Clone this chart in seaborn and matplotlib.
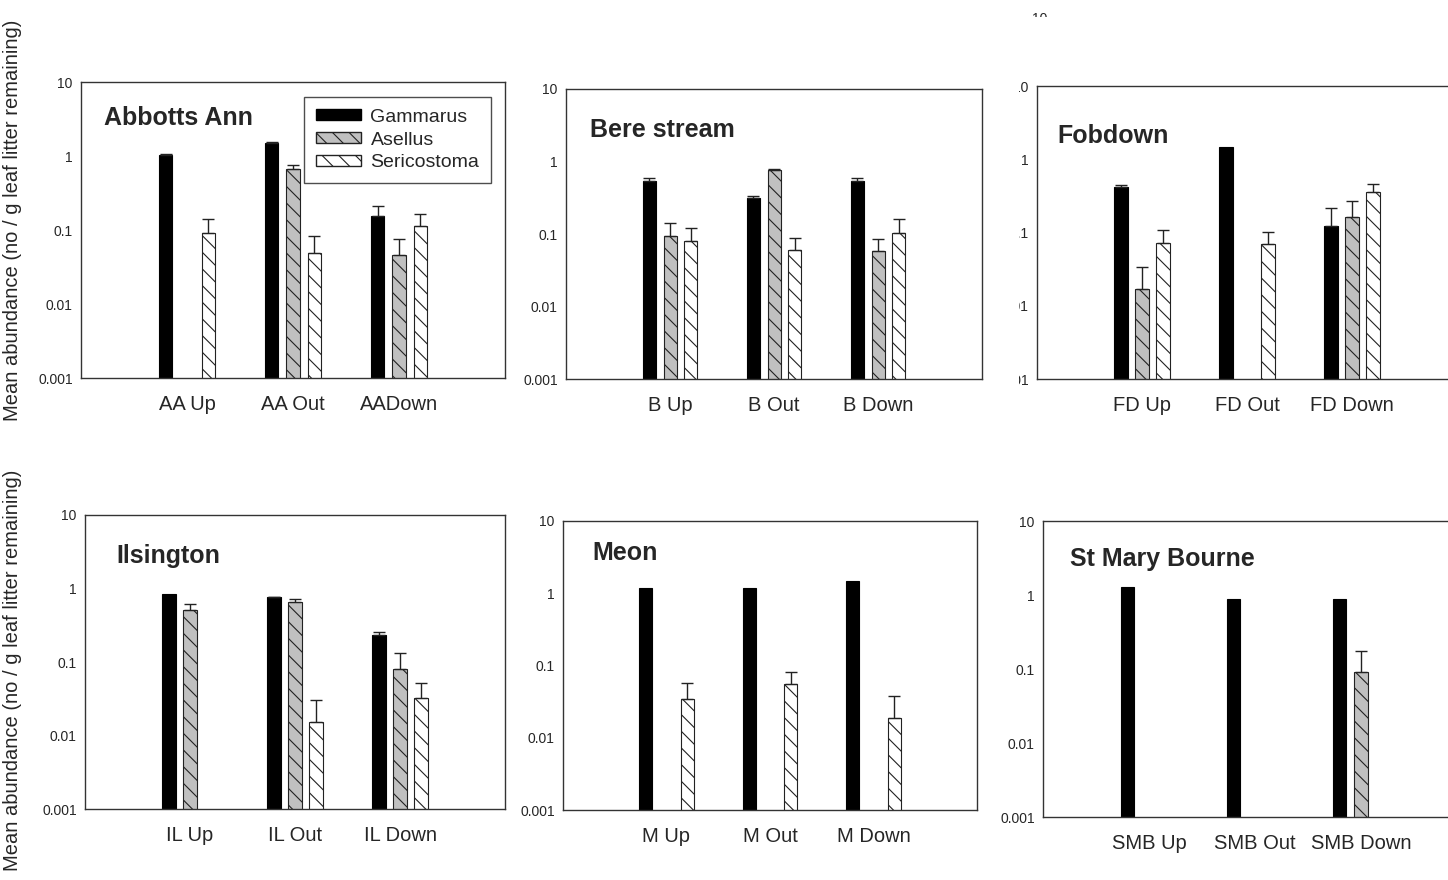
"""
Mean abundance of three shredders at six chalk-stream sites (log scale bars)
"""

import matplotlib
matplotlib.use("Agg")
import matplotlib.pyplot as plt
from matplotlib.patches import Patch, Rectangle
from matplotlib.ticker import NullLocator
import seaborn as sns
import numpy as np
import pandas as pd

nan = np.nan

species = ["Gammarus", "Asellus", "Sericostoma"]
sites = ["Abbotts Ann", "Bere stream", "Fobdown", "Ilsington", "Meon", "St Mary Bourne"]
reaches = [
    ["AA Up", "AA Out", "AADown"],
    ["B Up", "B Out", "B Down"],
    ["FD Up", "FD Out", "FD Down"],
    ["IL Up", "IL Out", "IL Down"],
    ["M Up", "M Out", "M Down"],
    ["SMB Up", "SMB Out", "SMB Down"],
]

# mean abundance (no / g leaf litter remaining), one row per site; nan = not found
gammarus = [
    [1.04, 1.51, 0.156],
    [0.542, 0.31, 0.542],
    [0.415, 1.49, 0.123],
    [0.837, 0.762, 0.234],
    [1.19, 1.19, 1.50],
    [1.27, 0.883, 0.883],
]
asellus = [
    [nan, 0.667, 0.046],
    [0.095, 0.76, 0.058],
    [0.0169, nan, 0.164],
    [0.502, 0.659, 0.080],
    [nan, nan, nan],
    [nan, nan, 0.090],
]
sericostoma = [
    [0.091, 0.049, 0.113],
    [0.079, 0.060, 0.102],
    [0.0716, 0.0686, 0.362],
    [nan, 0.0153, 0.032],
    [0.0343, 0.0558, 0.0187],
    [nan, nan, nan],
]

# standard errors (upper bars only)
gammarus_se = [
    [0.02, 0.03, 0.053],
    [0.041, 0.023, 0.041],
    [0.037, 0.0, 0.094],
    [0.0, 0.005, 0.018],
    [0.0, 0.0, 0.0],
    [0.0, 0.0, 0.0],
]
asellus_se = [
    [nan, 0.081, 0.030],
    [0.045, 0.02, 0.027],
    [0.0168, nan, 0.109],
    [0.110, 0.057, 0.053],
    [nan, nan, nan],
    [nan, nan, 0.087],
]
sericostoma_se = [
    [0.048, 0.035, 0.051],
    [0.041, 0.027, 0.061],
    [0.036, 0.032, 0.099],
    [nan, 0.0152, 0.020],
    [0.0227, 0.0252, 0.019],
    [nan, nan, nan],
]

colors = ["#000000", "#c0c0c0", "#ffffff"]
HATCH = "\\\\"

W, H = 1448, 880
# panel boxes in pixels: left, top, right, bottom
boxes = [
    (81, 82, 505, 378),
    (566, 89, 982, 379),
    (1037, 86, 1457, 379),
    (85, 515, 505, 809),
    (563, 521, 977, 810),
    (1043, 521, 1467, 817),
]
title_pos = [(0.054, 0.88), (0.058, 0.86), (0.048, 0.83),
             (0.074, 0.86), (0.07, 0.89), (0.064, 0.87)]

sns.set_style("white")
plt.rcParams["font.family"] = ["Liberation Sans", "DejaVu Sans"]
plt.rcParams["hatch.linewidth"] = 0.8

fig = plt.figure(figsize=(W / 100, H / 100), dpi=100)

all_mean = [gammarus, asellus, sericostoma]
all_se = [gammarus_se, asellus_se, sericostoma_se]
offsets = (np.arange(len(species)) - 1) * 0.2

for i, site in enumerate(sites):
    rows = []
    for j, reach in enumerate(reaches[i]):
        for k, sp in enumerate(species):
            rows.append(dict(reach=reach, species=sp,
                             mean=all_mean[k][i][j], se=all_se[k][i][j],
                             pos=j + offsets[k]))
    df = pd.DataFrame(rows)
    present = df.dropna(subset=["mean"])

    l, t, r, b = boxes[i]
    ax = fig.add_axes([l / W, 1 - b / H, (r - l) / W, (b - t) / H])
    sns.barplot(data=present, x="reach", y="mean", hue="species",
                order=reaches[i], hue_order=species, palette=colors,
                width=0.6, gap=0.375, saturation=1, errorbar=None,
                edgecolor="#222222", linewidth=0.8, legend=False, ax=ax)
    for p in ax.patches:
        if p.get_facecolor()[0] > 0.5:
            p.set_hatch(HATCH)
        else:
            p.set_edgecolor("black")

    eb = present[present["se"] > 0]
    ax.errorbar(eb["pos"], eb["mean"], yerr=[np.zeros(len(eb)), eb["se"]],
                fmt="none", ecolor="#222222", elinewidth=1, capsize=4, capthick=1)

    ax.set_yscale("log")
    ax.set_ylim(0.001, 10)
    ax.set_xlim(-1, 3)
    ax.set_yticks([0.001, 0.01, 0.1, 1, 10])
    ax.set_yticklabels(["0.001", "0.01", "0.1", "1", "10"])
    ax.yaxis.set_minor_locator(NullLocator())
    ax.set_xlabel("")
    ax.set_ylabel("")
    ax.tick_params(axis="both", direction="in", length=4, width=1, color="#222222")
    ax.tick_params(axis="y", labelsize=10, pad=6)
    ax.tick_params(axis="x", labelsize=14.5, pad=12)
    for s in ax.spines.values():
        s.set_visible(True)
        s.set_color("#333333")
        s.set_linewidth(1)

    tx, ty = title_pos[i]
    ax.text(tx, ty, site, transform=ax.transAxes, fontsize=18,
            fontweight="bold", ha="left", va="center")

    if i == 0:
        handles = [Patch(facecolor=colors[0], edgecolor="black", label=species[0]),
                   Patch(facecolor=colors[1], edgecolor="#222222", hatch=HATCH, label=species[1]),
                   Patch(facecolor=colors[2], edgecolor="#222222", hatch=HATCH, label=species[2])]
        leg = ax.legend(handles=handles, loc="upper right", bbox_to_anchor=(0.967, 0.949),
                        fontsize=14, frameon=True, fancybox=False, edgecolor="#222222",
                        borderaxespad=0, handlelength=2.3, handleheight=0.5,
                        labelspacing=0.3, borderpad=0.6, handletextpad=0.5)
        leg.get_frame().set_linewidth(1)

ylab = "Mean abundance (no / g leaf litter remaining)"
fig.text(13 / W, 1 - 220 / H, ylab, rotation=90, ha="center", va="center", fontsize=14.5)
fig.text(13 / W, 1 - 670 / H, ylab, rotation=90, ha="center", va="center", fontsize=14.5)

# stray label from an overlapping panel at the top, mostly hidden
fig.text(1040 / W, 1 - 19 / H, "10", ha="center", va="center", fontsize=10)
fig.patches.append(Rectangle((1020 / W, 1 - 60 / H), 40 / W, 43 / H,
                             transform=fig.transFigure, facecolor="white",
                             edgecolor="none", zorder=10))
# left part of the Fobdown tick labels is covered
fig.patches.append(Rectangle((986 / W, 1 - 392 / H), 33 / W, 316 / H,
                             transform=fig.transFigure, facecolor="white",
                             edgecolor="none", zorder=10))

fig.savefig("out.png", dpi=100, facecolor="white")
